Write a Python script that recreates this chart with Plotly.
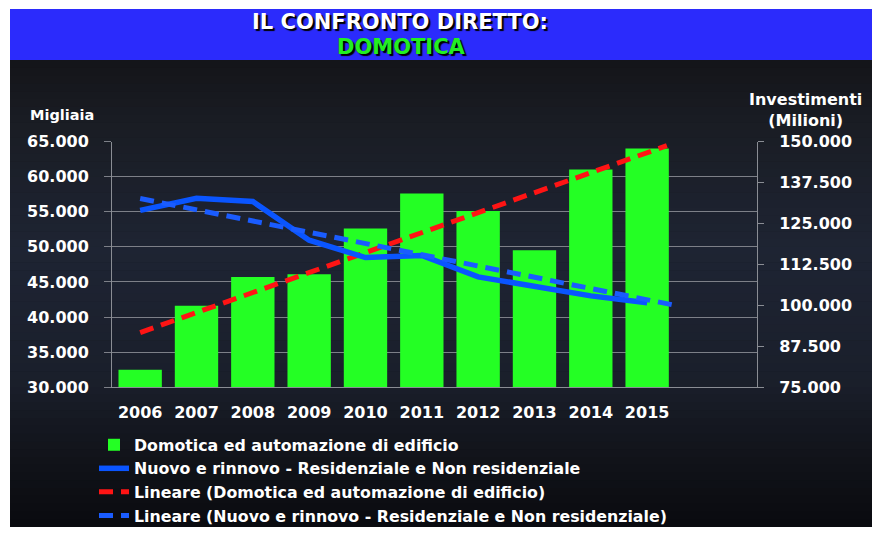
import plotly.graph_objects as go

# ---------------- data ----------------
years = ["2006", "2007", "2008", "2009", "2010", "2011", "2012", "2013", "2014", "2015"]
domotica = [32500, 41600, 45700, 46100, 52600, 57600, 55100, 49500, 61000, 64000]
investimenti = [129000, 132700, 131700, 119900, 114600, 115200, 108700, 105600, 102900, 100800]
trend_dom_years = [2006, 2015.35]
trend_dom = [37800, 64400]
trend_inv_years = [2006, 2015.5]
trend_inv = [132600, 100000]
left_ticks = [30000, 35000, 40000, 45000, 50000, 55000, 60000, 65000]
right_ticks = [75000, 87500, 100000, 112500, 125000, 137500, 150000]

names = [
    "Domotica ed automazione di edificio",
    "Nuovo e rinnovo - Residenziale e Non residenziale",
    "Lineare (Domotica ed automazione di edificio)",
    "Lineare (Nuovo e rinnovo - Residenziale e Non residenziale)",
]

W, H = 879, 535
FONT = "DejaVu Sans"


def px(x):
    return x / W


def py(y):
    return 1 - y / H


base_year = int(years[0])
xi = [int(y) - base_year for y in years]
tdx = [y - base_year for y in trend_dom_years]
tix = [y - base_year for y in trend_inv_years]

fig = go.Figure()
fig.add_trace(go.Bar(x=xi, y=domotica, name=names[0], marker=dict(color="#24FF24", line=dict(width=0)),
                     width=0.77, yaxis="y"))
fig.add_trace(go.Scatter(x=xi, y=investimenti, name=names[1], mode="lines",
                         line=dict(color="#0A55FF", width=5.5), yaxis="y2"))
fig.add_trace(go.Scatter(x=tdx, y=trend_dom, name=names[2], mode="lines",
                         line=dict(color="#FF1414", width=5, dash="14px,8px"), yaxis="y"))
fig.add_trace(go.Scatter(x=tix, y=trend_inv, name=names[3], mode="lines",
                         line=dict(color="#1A5CFF", width=5, dash="14px,8px"), yaxis="y2"))

# ---------------- background shapes ----------------
shapes = []
shapes.append(dict(type="rect", xref="paper", yref="paper", x0=px(10), x1=px(872), y0=py(527), y1=py(9),
                   fillcolor="#101116", line=dict(width=0), layer="below"))
stops = [(60, (20, 21, 25)), (130, (26, 29, 37)), (250, (30, 36, 51)), (380, (26, 31, 43)),
         (450, (18, 20, 27)), (527, (10, 11, 15))]
nb = 60
for i in range(nb):
    y0 = 60 + (527 - 60) * i / nb
    y1 = 60 + (527 - 60) * (i + 1) / nb
    ym = (y0 + y1) / 2
    for j in range(len(stops) - 1):
        if stops[j][0] <= ym <= stops[j + 1][0]:
            t = (ym - stops[j][0]) / (stops[j + 1][0] - stops[j][0])
            c = tuple(int(round(stops[j][1][k] + t * (stops[j + 1][1][k] - stops[j][1][k]))) for k in range(3))
            break
    shapes.append(dict(type="rect", xref="paper", yref="paper", x0=px(10), x1=px(872),
                       y0=py(min(y1 + 0.5, 527)), y1=py(y0),
                       fillcolor="rgb(%d,%d,%d)" % c, line=dict(width=0), layer="below"))
shapes.append(dict(type="rect", xref="paper", yref="paper", x0=px(10), x1=px(872), y0=py(60), y1=py(9),
                   fillcolor="#2B2BFC", line=dict(width=0), layer="below"))

tick_font = dict(family=FONT, size=16, color="white", weight="bold")

fig.update_layout(
    width=W, height=H,
    autosize=False,
    margin=dict(l=0, r=0, t=0, b=0),
    paper_bgcolor="white",
    plot_bgcolor="rgba(0,0,0,0)",
    separators=",.",
    showlegend=True,
    shapes=shapes,
    xaxis=dict(domain=[px(112), px(757)], range=[-0.5, -0.5 + (757 - 112) / 56.33],
               tickvals=xi, ticktext=years, ticks="", showgrid=False, zeroline=False,
               showline=True, linecolor="#8a8d94", linewidth=1, tickfont=tick_font,
               ticklabelstandoff=10, automargin=False, fixedrange=True),
    xaxis2=dict(overlaying="x", anchor="y", side="bottom", matches="x",
                tickvals=[v - 0.5 for v in xi] + [xi[-1] + 0.5], showticklabels=False,
                ticks="outside", ticklen=5, tickcolor="#8a8d94", showgrid=False, zeroline=False,
                showline=False, automargin=False),
    yaxis=dict(domain=[py(387.3), py(141.5)], range=[left_ticks[0], left_ticks[-1]], tickvals=left_ticks,
               tickformat=",.0f", showgrid=True, gridcolor="#7d8088", gridwidth=1, zeroline=False,
               showline=True, linecolor="#8a8d94", linewidth=1, ticks="outside", ticklen=7,
               tickcolor="#7d8088", tickfont=tick_font, ticklabelstandoff=12, automargin=False,
               fixedrange=True),
    yaxis2=dict(overlaying="y", side="right", anchor="x", range=[right_ticks[0], right_ticks[-1]],
                tickvals=right_ticks, tickformat=",.0f", showgrid=False, zeroline=False,
                showline=True, linecolor="#8a8d94", linewidth=1, ticks="outside", ticklen=6,
                tickcolor="#8a8d94", tickfont=tick_font, ticklabelstandoff=12, automargin=False,
                fixedrange=True),
    # anchored by its bottom so that it stays inside the figure and does not push the margins
    legend=dict(x=px(94), y=py(533), xanchor="left", yanchor="bottom", bgcolor="rgba(0,0,0,0)",
                font=dict(family=FONT, size=15.8, color="white", weight="bold"),
                tracegroupgap=0, itemclick=False, itemdoubleclick=False),
    annotations=[
        dict(text="IL CONFRONTO DIRETTO:", xref="paper", yref="paper", x=px(400), y=py(22),
             xanchor="center", yanchor="middle", showarrow=False,
             font=dict(family=FONT, size=21, color="white", weight="bold",
                       shadow="2px 2px 1px #000")),
        dict(text="DOMOTICA", xref="paper", yref="paper", x=px(401), y=py(46.5),
             xanchor="center", yanchor="middle", showarrow=False,
             font=dict(family=FONT, size=21, color="#22EE22", weight="bold",
                       shadow="2px 2px 1px #000")),
        dict(text="Migliaia", xref="paper", yref="paper", x=px(62), y=py(115),
             xanchor="center", yanchor="middle", showarrow=False,
             font=dict(family=FONT, size=14.5, color="white", weight="bold")),
        dict(text="Investimenti<br>(Milioni)", xref="paper", yref="paper", x=px(805), y=py(110),
             xanchor="center", yanchor="middle", showarrow=False, align="center",
             font=dict(family=FONT, size=16, color="white", weight="bold")),
    ],
)

fig.write_html(
    "out.html",
    config={"displayModeBar": False, "staticPlot": True, "responsive": False},
    post_script=("document.documentElement.style.margin='0';document.documentElement.style.overflow='hidden';"
                 "document.body.style.margin='0';document.body.style.padding='0';"
                 "document.body.style.overflow='hidden';"),
)
